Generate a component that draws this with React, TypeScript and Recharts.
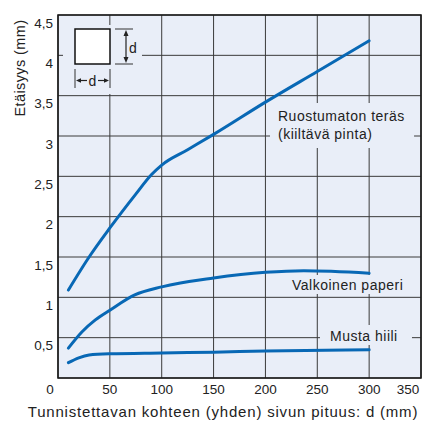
import React from 'react';
import {
  LineChart,
  Line,
  XAxis,
  YAxis,
  CartesianGrid,
  ReferenceArea,
  Customized,
} from 'recharts';

// distance curves (d in mm -> distance in mm)
const steelD = [10, 30, 50, 75, 90, 100, 125, 150, 200, 250, 300];
const steelMm = [1.09, 1.5, 1.86, 2.28, 2.52, 2.64, 2.83, 3.02, 3.42, 3.8, 4.18];

const paperD = [10, 23, 36, 50, 74, 100, 150, 200, 237, 300];
const paperMm = [0.37, 0.57, 0.72, 0.84, 1.03, 1.13, 1.24, 1.31, 1.33, 1.3];

const carbonD = [10, 20, 30, 50, 100, 150, 200, 300];
const carbonMm = [0.19, 0.25, 0.285, 0.3, 0.31, 0.32, 0.335, 0.35];

const xTicks = [0, 50, 100, 150, 200, 250, 300, 350];
const yTicks = [0.5, 1, 1.5, 2, 2.5, 3, 3.5, 4, 4.5];

const seriesLabels = ['Ruostumaton teräs', '(kiiltävä pinta)', 'Valkoinen paperi', 'Musta hiili'];
const xTitle = 'Tunnistettavan kohteen (yhden) sivun pituus: d (mm)';
const yTitle = 'Etäisyys (mm)';

const toRows = (xs: number[], ys: number[]) => xs.map((d, i) => ({ d, mm: ys[i] }));

const FONT = '"Liberation Sans", Arial, Helvetica, sans-serif';
const BG = '#e9eef8';
const BLUE = '#0868b5';
const INK = '#222';

const fmt = (v: number) => String(v).replace('.', ',');

const XTick = ({ x, y, payload }: any) => {
  let tx = x;
  if (payload.value === 0) tx = x - 8;
  if (payload.value === 350) tx = x - 13;
  return (
    <text x={tx} y={y + 16} textAnchor="middle" fontSize={13.5} fill={INK} fontFamily={FONT}>
      {fmt(payload.value)}
    </text>
  );
};

const YTick = ({ y, payload }: any) => (
  <text x={53} y={y + 12.5} textAnchor="end" fontSize={13.5} fill={INK} fontFamily={FONT}>
    {fmt(payload.value)}
  </text>
);

const boxLabel = (lines: string[], dx: number, dy: number) => (props: any) => {
  const { x, y } = props.viewBox;
  return (
    <text fontSize={14} letterSpacing={0.5} fill={INK} fontFamily={FONT}>
      {lines.map((l, i) => (
        <tspan key={i} x={x + dx} y={y + dy + i * 17.5}>
          {l}
        </tspan>
      ))}
    </text>
  );
};

const Decorations = () => (
  <g fontFamily={FONT}>
    {/* inset sketch of the square target */}
    <rect x={63} y={25} width={79} height={69} fill={BG} />
    <rect x={75} y={29} width={35} height={35} fill="#fff" stroke="#111" strokeWidth={1.5} />
    <line x1={115} y1={29} x2={133} y2={29} stroke="#333" />
    <line x1={115} y1={64} x2={133} y2={64} stroke="#333" />
    <line x1={126} y1={33} x2={126} y2={60} stroke="#222" strokeWidth={1.2} />
    <polygon points="126,30 123.5,36 128.5,36" fill="#222" />
    <polygon points="126,63 123.5,57 128.5,57" fill="#222" />
    <text x={129} y={53} fontSize={14} fill={INK}>d</text>
    <line x1={75} y1={69} x2={75} y2={88} stroke="#333" />
    <line x1={110} y1={69} x2={110} y2={88} stroke="#333" />
    <line x1={78} y1={80.5} x2={87} y2={80.5} stroke="#222" strokeWidth={1.2} />
    <line x1={98} y1={80.5} x2={107} y2={80.5} stroke="#222" strokeWidth={1.2} />
    <polygon points="76,80.5 81,78.3 81,82.7" fill="#222" />
    <polygon points="109,80.5 104,78.3 104,82.7" fill="#222" />
    <text x={92.5} y={85.5} fontSize={14} fill={INK} textAnchor="middle">d</text>
    {/* axis titles */}
    <text x={223} y={417} fontSize={15} letterSpacing={0.8} fill={INK} textAnchor="middle">
      {xTitle}
    </text>
    <text
      x={25}
      y={68}
      fontSize={14.5}
      letterSpacing={0.4}
      fill={INK}
      textAnchor="middle"
      transform="rotate(-90 25 68)"
    >
      {yTitle}
    </text>
  </g>
);

export default function App() {
  return (
    <div style={{ position: 'fixed', left: 0, top: 0, background: '#fff' }}>
      <LineChart width={423} height={425} margin={{ top: 15, right: 2, bottom: 0, left: 0 }}>
        <CartesianGrid stroke="#3a3a3a" strokeWidth={1} fill={BG} fillOpacity={1} />
        <XAxis
          type="number"
          dataKey="d"
          domain={[0, 350]}
          ticks={xTicks}
          height={47}
          tick={<XTick />}
          tickLine={false}
          tickSize={0}
          tickMargin={0}
          axisLine={false}
          interval={0}
          allowDuplicatedCategory={false}
        />
        <YAxis
          type="number"
          domain={[0, 4.5]}
          ticks={yTicks}
          width={58}
          tick={<YTick />}
          tickLine={false}
          tickSize={0}
          tickMargin={0}
          axisLine={false}
          interval={0}
        />
        <ReferenceArea
          x1={204.4}
          x2={343.3}
          y1={2.85}
          y2={3.41}
          fill={BG}
          fillOpacity={1}
          stroke="none"
          label={boxLabel(seriesLabels.slice(0, 2), 8, 18.5)}
        />
        <ReferenceArea
          x1={221.8}
          x2={339.4}
          y1={1.04}
          y2={1.277}
          fill={BG}
          fillOpacity={1}
          stroke="none"
          label={boxLabel([seriesLabels[2]], 4, 15)}
        />
        <ReferenceArea
          x1={252.6}
          x2={341.3}
          y1={0.409}
          y2={0.657}
          fill={BG}
          fillOpacity={1}
          stroke="none"
          label={boxLabel([seriesLabels[3]], 10, 16)}
        />
        <Line
          data={toRows(steelD, steelMm)}
          dataKey="mm"
          type="monotone"
          stroke={BLUE}
          strokeWidth={3}
          strokeLinecap="round"
          dot={false}
          activeDot={false}
          isAnimationActive={false}
        />
        <Line
          data={toRows(paperD, paperMm)}
          dataKey="mm"
          type="monotone"
          stroke={BLUE}
          strokeWidth={3}
          strokeLinecap="round"
          dot={false}
          activeDot={false}
          isAnimationActive={false}
        />
        <Line
          data={toRows(carbonD, carbonMm)}
          dataKey="mm"
          type="monotone"
          stroke={BLUE}
          strokeWidth={3}
          strokeLinecap="round"
          dot={false}
          activeDot={false}
          isAnimationActive={false}
        />
        <ReferenceArea x1={0} x2={350} y1={0} y2={4.5} fill="none" stroke="#1a1a1a" strokeWidth={1.6} />
        <Customized component={Decorations} />
      </LineChart>
    </div>
  );
}
